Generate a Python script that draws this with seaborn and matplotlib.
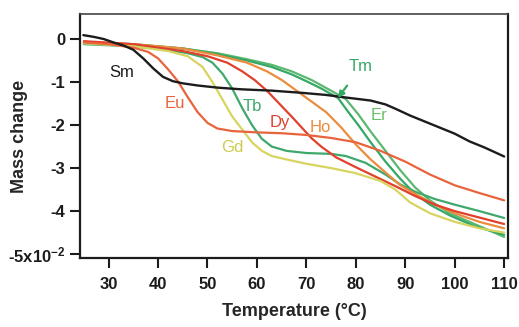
"""TGA mass-change curves of lanthanide samples vs temperature."""

import matplotlib
matplotlib.use("Agg")
import matplotlib.pyplot as plt
from matplotlib import font_manager
import pandas as pd
import seaborn as sns

# --- data (temperature in degC, mass change x1e-2) ---
sm_t = [24.9, 27, 29, 31, 33, 35, 37, 39, 41, 43, 45, 48, 52, 57, 63, 69, 74, 78, 83, 86, 88, 91, 94, 97, 100, 103, 106, 110]
sm_m = [0.09, 0.05, 0.0, -0.08, -0.15, -0.25, -0.45, -0.68, -0.88, -0.98, -1.03, -1.08, -1.13, -1.17, -1.2, -1.25, -1.3, -1.36, -1.43, -1.52, -1.62, -1.78, -1.92, -2.06, -2.2, -2.38, -2.52, -2.73]

eu_t = [25, 30, 35, 38, 40, 42, 44, 46, 48, 50, 52, 55, 60, 65, 70, 75, 80, 85, 90, 95, 100, 105, 110]
eu_m = [-0.08, -0.12, -0.2, -0.3, -0.45, -0.7, -0.98, -1.35, -1.7, -1.95, -2.08, -2.14, -2.17, -2.19, -2.23, -2.3, -2.4, -2.6, -2.85, -3.15, -3.4, -3.58, -3.75]

gd_t = [25, 35, 42, 46, 49, 51, 53, 55, 57, 59, 61, 63, 66, 70, 75, 80, 85, 88, 91, 95, 100, 105, 110]
gd_m = [-0.1, -0.17, -0.28, -0.4, -0.65, -1.0, -1.4, -1.8, -2.1, -2.4, -2.6, -2.72, -2.8, -2.9, -3.0, -3.12, -3.3, -3.5, -3.8, -4.05, -4.25, -4.4, -4.5]

tb_t = [25, 35, 42, 46, 49, 51, 53, 55, 57, 59, 61, 63, 66, 70, 75, 78, 82, 86, 89, 92, 96, 100, 105, 110]
tb_m = [-0.12, -0.17, -0.25, -0.33, -0.42, -0.55, -0.8, -1.15, -1.6, -2.0, -2.32, -2.5, -2.6, -2.65, -2.67, -2.72, -2.88, -3.15, -3.38, -3.55, -3.72, -3.85, -4.0, -4.16]

dy_t = [25, 35, 45, 50, 54, 57, 59.5, 62, 64.5, 67, 69, 71, 73, 76, 80, 84, 88, 92, 96, 100, 105, 110]
dy_m = [-0.05, -0.12, -0.28, -0.4, -0.55, -0.75, -0.95, -1.2, -1.5, -1.8, -2.05, -2.3, -2.5, -2.75, -2.98, -3.2, -3.42, -3.65, -3.85, -4.0, -4.15, -4.3]

ho_t = [25, 35, 45, 52, 58, 62, 65, 68, 71, 74, 77, 80, 83, 86, 89, 92, 96, 100, 105, 110]
ho_m = [-0.07, -0.12, -0.22, -0.38, -0.55, -0.75, -0.95, -1.2, -1.45, -1.7, -2.05, -2.45, -2.8, -3.1, -3.4, -3.6, -3.85, -4.05, -4.25, -4.4]

tm_t = [25, 35, 45, 52, 58, 63, 67, 70, 73, 76.4, 78.5, 80.5, 83, 86, 89, 92, 95, 99, 104, 110]
tm_m = [-0.08, -0.12, -0.22, -0.35, -0.5, -0.65, -0.82, -0.98, -1.15, -1.37, -1.7, -2.0, -2.4, -2.85, -3.25, -3.6, -3.85, -4.1, -4.35, -4.55]

er_t = [25, 35, 45, 52, 58, 63, 67, 71, 75, 78, 80.5, 83, 86, 89, 92, 95, 99, 104, 110]
er_m = [-0.1, -0.13, -0.22, -0.33, -0.47, -0.6, -0.75, -0.95, -1.2, -1.4, -1.75, -2.15, -2.6, -3.05, -3.45, -3.75, -4.05, -4.3, -4.6]

x_ticks = [30, 40, 50, 60, 70, 80, 90, 100, 110]
y_ticks = [0, -1, -2, -3, -4, -5]
y_ticklabels = ["0", "-1", "-2", "-3", "-4", r"-5x10$^{\mathbf{-2}}$"]

series = {
    "Sm": (sm_t, sm_m), "Eu": (eu_t, eu_m), "Gd": (gd_t, gd_m), "Tb": (tb_t, tb_m),
    "Dy": (dy_t, dy_m), "Ho": (ho_t, ho_m), "Er": (er_t, er_m), "Tm": (tm_t, tm_m),
}
colors = {
    "Sm": "#1c1c1c", "Eu": "#e8643c", "Gd": "#d8d460", "Tb": "#3fa86c",
    "Dy": "#e0402c", "Ho": "#eb8c3e", "Er": "#5cb870", "Tm": "#36a865",
}
# label positions in data coords
labels = {
    "Sm": (32.6, -0.77), "Eu": (43.4, -1.49), "Gd": (55.0, -2.53), "Tb": (59.0, -1.58),
    "Dy": (64.7, -1.95), "Ho": (72.8, -2.05), "Er": (84.6, -1.77),
}
label_colors = dict(colors, Gd="#cfcb4e", Er="#6cbf6c")

frames = [pd.DataFrame({"element": k, "T": t, "M": m}) for k, (t, m) in series.items()]
df = pd.concat(frames, ignore_index=True)

sns.set_theme(style="ticks", rc={
    "xtick.major.size": 7.5, "ytick.major.size": 7.5,
    "xtick.major.width": 1.5, "ytick.major.width": 1.5,
    "xtick.bottom": True, "ytick.left": True,
    "xtick.color": "#1c1c1c", "ytick.color": "#1c1c1c",
})
installed = {f.name for f in font_manager.fontManager.ttflist}
families = [f for f in ["Liberation Sans Narrow", "DejaVu Sans Condensed", "Liberation Sans"]
            if f in installed] + ["DejaVu Sans"]
plt.rcParams["font.family"] = families
plt.rcParams["font.weight"] = "bold"
plt.rcParams["mathtext.fontset"] = "custom"
plt.rcParams["mathtext.bf"] = f"{families[0]}:bold"
plt.rcParams["mathtext.default"] = "bf"

fig = plt.figure(figsize=(5.19, 3.27), dpi=100)
ax = fig.add_axes([0.154, 0.211, 0.825, 0.746])

draw_order = ["Er", "Tm", "Tb", "Ho", "Dy", "Gd", "Eu", "Sm"]
for name in draw_order:
    sub = df[df["element"] == name]
    sns.lineplot(data=sub, x="T", y="M", color=colors[name], sort=False,
                 estimator=None, linewidth=1.6 if name != "Sm" else 1.7, ax=ax)

for name, (tx, my) in labels.items():
    ax.text(tx, my, name, color=label_colors[name], fontsize=12, ha="center",
            va="center", fontweight="normal")

ax.annotate("Tm", xy=(76.4, -1.37), xytext=(81.0, -0.65), color=colors["Tm"],
            fontsize=12, ha="center", va="center", fontweight="normal",
            arrowprops=dict(arrowstyle="-|>", color=colors["Tm"], lw=1.6,
                            shrinkA=7, shrinkB=0, mutation_scale=9))

ax.set_xlim(24.2, 110.8)
ax.set_ylim(-5.09, 0.58)
ax.set_xticks(x_ticks)
ax.set_yticks(y_ticks)
ax.set_yticklabels(y_ticklabels)
ax.tick_params(axis="both", which="major", direction="out", length=7.5, width=1.5,
               bottom=True, left=True, color="#1c1c1c", labelsize=12)
ax.tick_params(axis="x", pad=6)
ax.tick_params(axis="y", pad=3)
for lab in ax.get_xticklabels() + ax.get_yticklabels():
    lab.set_fontweight("bold")

for side in ["left", "bottom", "right"]:
    ax.spines[side].set_linewidth(1.6)
    ax.spines[side].set_color("#1c1c1c")
ax.spines["top"].set_linewidth(1.2)
ax.spines["top"].set_color("#444444")

ax.set_xlabel("Temperature (°C)", fontsize=13, fontweight="bold")
ax.set_ylabel("Mass change", fontsize=13, fontweight="bold")
ax.xaxis.set_label_coords(0.5, -0.186)
ax.yaxis.set_label_coords(-0.122, 0.5)

fig.savefig("out.png", dpi=100)
plt.close(fig)
